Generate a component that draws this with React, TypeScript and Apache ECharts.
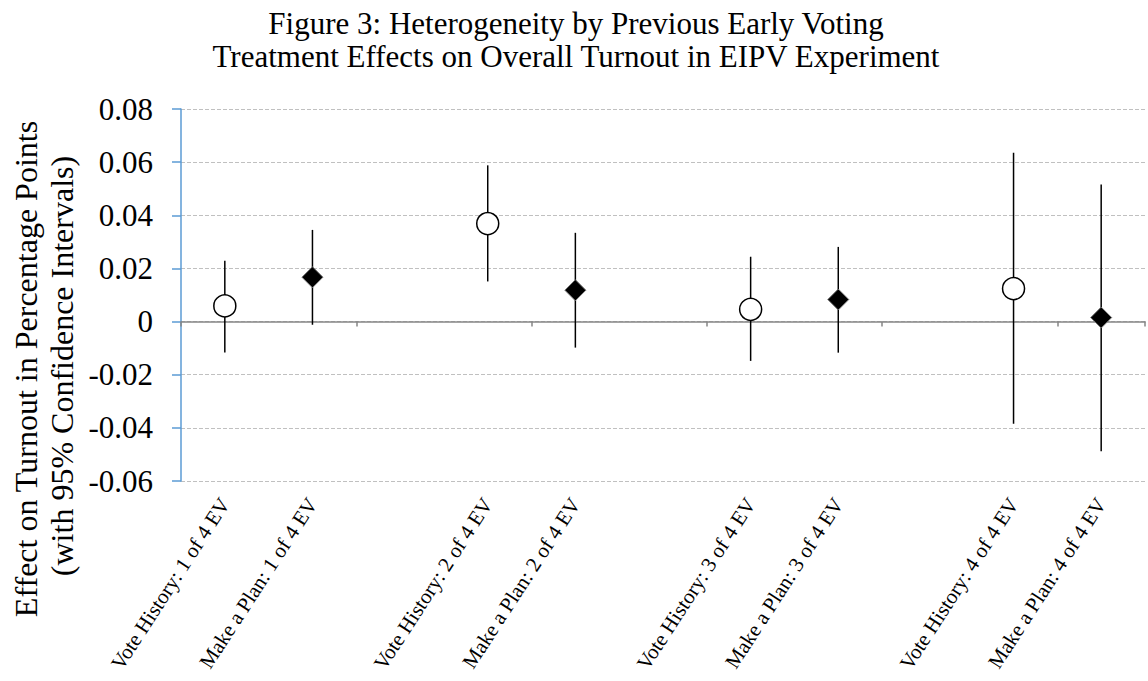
import React, { useEffect, useRef } from "react";
import * as echarts from "echarts";

const FONT = "'Times New Roman', 'Liberation Serif', serif";

const titleLines = [
  "Figure 3: Heterogeneity by Previous Early Voting",
  "Treatment Effects on Overall Turnout in EIPV Experiment",
];
const yTitleLines = [
  "Effect on Turnout in Percentage Points",
  "(with 95% Confidence Intervals)",
];

const categories = [
  "Vote History: 1 of 4 EV",
  "Make a Plan: 1 of 4 EV",
  "",
  "Vote History: 2 of 4 EV",
  "Make a Plan: 2 of 4 EV",
  "",
  "Vote History: 3 of 4 EV",
  "Make a Plan: 3 of 4 EV",
  "",
  "Vote History: 4 of 4 EV",
  "Make a Plan: 4 of 4 EV",
];

const voteHistoryIdx = [0, 3, 6, 9];
const voteHistoryEst = [0.0059, 0.0369, 0.0046, 0.0124];
const voteHistoryLow = [-0.0116, 0.0151, -0.0148, -0.0385];
const voteHistoryHigh = [0.0229, 0.0588, 0.0244, 0.0635];

const makePlanIdx = [1, 4, 7, 10];
const makePlanEst = [0.0167, 0.0118, 0.0083, 0.0015];
const makePlanLow = [-0.0012, -0.0098, -0.0117, -0.0488];
const makePlanHigh = [0.0345, 0.0334, 0.0281, 0.0516];

const yMin = -0.06;
const yMax = 0.08;
const yStep = 0.02;

export default function App() {
  const ref = useRef<HTMLDivElement>(null);

  useEffect(() => {
    if (!ref.current) return;
    const chart = echarts.init(ref.current, null, { renderer: "svg" });

    const errorData: number[][] = [];
    voteHistoryIdx.forEach((c, i) => errorData.push([c, voteHistoryLow[i], voteHistoryHigh[i]]));
    makePlanIdx.forEach((c, i) => errorData.push([c, makePlanLow[i], makePlanHigh[i]]));

    const yTitleX = [26, 62];
    const yTitleY = [369, 366];

    const option: any = {
      animation: false,
      backgroundColor: "#ffffff",
      title: {
        text: titleLines.join("\n"),
        left: 571,
        top: 2,
        textAlign: "center",
        textStyle: {
          fontFamily: FONT,
          fontSize: 31,
          lineHeight: 33,
          fontWeight: "normal",
          color: "#000000",
        },
      },
      graphic: yTitleLines.map((t, i) => ({
        type: "text",
        x: yTitleX[i],
        y: yTitleY[i],
        rotation: Math.PI / 2,
        style: {
          text: t,
          fontFamily: FONT,
          fontSize: 32,
          fill: "#000000",
          align: "center",
          verticalAlign: "middle",
        },
      })),
      grid: { left: 181, right: 3, top: 109, bottom: 200, containLabel: false },
      xAxis: [
        {
          type: "category",
          data: categories,
          position: "top",
          boundaryGap: true,
          axisLine: { show: true, onZero: true, lineStyle: { color: "#868686", width: 1.5 } },
          axisTick: { show: true, inside: true, length: 5, lineStyle: { color: "#868686", width: 1.5 } },
          axisLabel: { show: false },
          splitLine: { show: false },
        },
        {
          type: "category",
          data: categories,
          position: "bottom",
          boundaryGap: true,
          axisLine: { show: false, onZero: false },
          axisTick: { show: false },
          axisLabel: {
            show: true,
            interval: 0,
            rotate: 57,
            margin: 19,
            fontFamily: FONT,
            fontSize: 21,
            color: "#000000",
          },
          splitLine: { show: false },
        },
      ],
      yAxis: {
        type: "value",
        min: yMin,
        max: yMax,
        interval: yStep,
        axisLine: { show: true, lineStyle: { color: "#5b9bd5", width: 1.5 } },
        axisTick: { show: true, length: 9, lineStyle: { color: "#5b9bd5", width: 1.5 } },
        axisLabel: {
          margin: 28,
          fontFamily: FONT,
          fontSize: 31,
          color: "#000000",
          formatter: (v: number) => {
            const r = Math.round(v * 100) / 100;
            return r === 0 ? "0" : r.toFixed(2);
          },
        },
        splitLine: { show: true, lineStyle: { color: "#c0c0c0", width: 1, type: [4, 2] } },
      },
      series: [
        {
          type: "custom",
          xAxisIndex: 1,
          data: errorData,
          z: 2,
          renderItem: (params: any, api: any) => {
            const p1 = api.coord([api.value(0), api.value(1)]);
            const p2 = api.coord([api.value(0), api.value(2)]);
            return {
              type: "line",
              shape: { x1: p1[0], y1: p1[1], x2: p2[0], y2: p2[1] },
              style: { stroke: "#000000", lineWidth: 1.5 },
            };
          },
        },
        {
          type: "scatter",
          name: "Vote History",
          xAxisIndex: 1,
          z: 3,
          symbol: "circle",
          symbolSize: 22,
          itemStyle: { color: "#ffffff", borderColor: "#000000", borderWidth: 1.5, opacity: 1 },
          data: voteHistoryIdx.map((c, i) => [c, voteHistoryEst[i]]),
        },
        {
          type: "scatter",
          name: "Make a Plan",
          xAxisIndex: 1,
          z: 3,
          symbol: "diamond",
          symbolSize: 21,
          itemStyle: { color: "#000000", borderColor: "#777777", borderWidth: 1, opacity: 1 },
          data: makePlanIdx.map((c, i) => [c, makePlanEst[i]]),
        },
      ],
    };

    chart.setOption(option);
    return () => chart.dispose();
  }, []);

  return (
    <div
      ref={ref}
      style={{ position: "fixed", left: 0, top: 0, width: 1148, height: 681, background: "#fff" }}
    />
  );
}
